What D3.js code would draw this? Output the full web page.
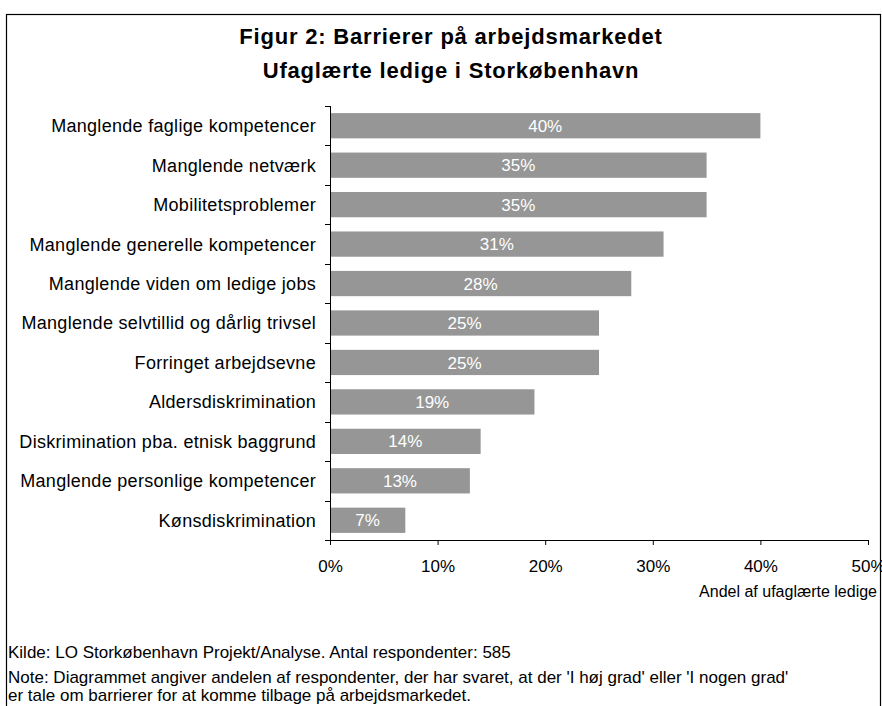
<!DOCTYPE html>
<html>
<head>
<meta charset="utf-8">
<script src="https://cdn.jsdelivr.net/npm/d3@7"></script>
<style>
  body { margin: 0; background: #fff; }
  svg { display: block; font-family: 'Liberation Sans', Arial, sans-serif; }
</style>
</head>
<body>
<div class="chart"></div>
<script>
// categories top to bottom, values in percent
const categories = [
  'Manglende faglige kompetencer',
  'Manglende netværk',
  'Mobilitetsproblemer',
  'Manglende generelle kompetencer',
  'Manglende viden om ledige jobs',
  'Manglende selvtillid og dårlig trivsel',
  'Forringet arbejdsevne',
  'Aldersdiskrimination',
  'Diskrimination pba. etnisk baggrund',
  'Manglende personlige kompetencer',
  'Kønsdiskrimination',
];
const values = [40, 35, 35, 31, 28, 25, 25, 19, 14, 13, 7];
const xTicks = [0, 10, 20, 30, 40, 50];

const titleLines = ['Figur 2: Barrierer på arbejdsmarkedet', 'Ufaglærte ledige i Storkøbenhavn'];
const notes = [
  'Kilde: LO Storkøbenhavn Projekt/Analyse. Antal respondenter: 585',
  "Note: Diagrammet angiver andelen af respondenter, der har svaret, at der 'I høj grad' eller 'I nogen grad'",
  'er tale om barrierer for at komme tilbage på arbejdsmarkedet.',
];

const W = 882, H = 706;
const margin = { top: 106, left: 330, right: 14, bottom: 166 };
const width = W - margin.left - margin.right;
const height = H - margin.top - margin.bottom;

const svg = d3.select('.chart').append('svg')
  .attr('width', W)
  .attr('height', H);

// outer frame
svg.append('rect')
  .attr('x', 6.5).attr('y', 14.5)
  .attr('width', 874).attr('height', 720)
  .attr('fill', 'none').attr('stroke', '#000').attr('stroke-width', 1.2);

svg.selectAll('.title')
  .data(titleLines)
  .enter().append('text')
  .attr('x', 451)
  .attr('y', (d, i) => 44 + i * 34)
  .attr('text-anchor', 'middle')
  .attr('font-size', 22)
  .attr('font-weight', 'bold')
  .attr('letter-spacing', 0.8)
  .text(d => d);

const g = svg.append('g')
  .attr('transform', 'translate(' + margin.left + ',' + margin.top + ')');

const x = d3.scaleLinear()
  .domain([0, 50])
  .range([0, width]);

const y = d3.scaleBand()
  .domain(categories)
  .range([0, height])
  .paddingInner(0.36)
  .paddingOuter(0.18);

// bars
g.selectAll('.bar')
  .data(values)
  .enter().append('rect')
  .attr('class', 'bar')
  .attr('x', 0)
  .attr('y', (d, i) => y(categories[i]))
  .attr('height', y.bandwidth())
  .attr('width', d => x(d))
  .attr('fill', '#969696');

// value labels
g.selectAll('.val')
  .data(values)
  .enter().append('text')
  .attr('x', d => x(d) / 2)
  .attr('y', (d, i) => y(categories[i]) + y.bandwidth() / 2)
  .attr('dy', '0.36em')
  .attr('text-anchor', 'middle')
  .attr('fill', '#fff')
  .attr('font-size', 17)
  .text(d => d + '%');

// y axis: ticks between categories
const yAxis = g.append('g');
yAxis.append('line')
  .attr('x1', 0.5).attr('x2', 0.5)
  .attr('y1', 0).attr('y2', height)
  .attr('stroke', '#000');
yAxis.selectAll('.ytick')
  .data(d3.range(categories.length + 1))
  .enter().append('line')
  .attr('x1', -5).attr('x2', 0.5)
  .attr('y1', i => Math.round(i * height / categories.length) + 0.5)
  .attr('y2', i => Math.round(i * height / categories.length) + 0.5)
  .attr('stroke', '#000');
yAxis.selectAll('.ylab')
  .data(categories)
  .enter().append('text')
  .attr('x', -14)
  .attr('y', d => y(d) + y.bandwidth() / 2)
  .attr('dy', '0.36em')
  .attr('text-anchor', 'end')
  .attr('font-size', 18)
  .attr('letter-spacing', 0.3)
  .text(d => d);

// x axis
const xAxis = d3.axisBottom(x)
  .tickValues(xTicks)
  .tickSize(5)
  .tickSizeOuter(0)
  .tickFormat(d => d + '%');
const xg = g.append('g')
  .attr('transform', 'translate(0,' + height + ')')
  .call(xAxis);
xg.selectAll('text')
  .attr('font-size', 17)
  .attr('font-family', "'Liberation Sans', Arial, sans-serif")
  .attr('fill', '#000')
  .attr('y', 32)
  .attr('dy', 0);
xg.select('.domain').attr('stroke', '#000');
xg.selectAll('.tick line').attr('stroke', '#000');

svg.append('text')
  .attr('x', 877)
  .attr('y', 597)
  .attr('text-anchor', 'end')
  .attr('font-size', 16)
  .text('Andel af ufaglærte ledige');

svg.selectAll('.note')
  .data(notes)
  .enter().append('text')
  .attr('x', 8)
  .attr('y', (d, i) => [658, 683, 701][i])
  .attr('font-size', 17)
  .text(d => d);
</script>
</body>
</html>
